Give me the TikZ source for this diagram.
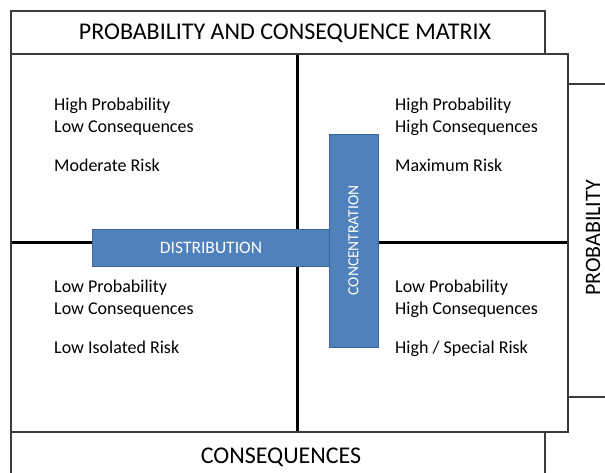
\documentclass[tikz,border=0pt]{standalone}
\usepackage{fontspec}
\setmainfont{Carlito}
\definecolor{barblue}{HTML}{4F81BD}
\definecolor{baredge}{HTML}{3C6696}
\definecolor{framegray}{HTML}{3A3A3A}
\tikzstyle{frame}=[draw=framegray, line width=1.6pt]
\tikzstyle{divider}=[draw=black, line width=3pt]
\tikzstyle{bar}=[fill=barblue, draw=baredge, line width=1pt]
\tikzstyle{bartext}=[white, inner sep=0pt, font=\fontsize{15.5}{18}\selectfont]
\tikzstyle{cell}=[anchor=base west, align=left, inner sep=0pt, font=\fontsize{18}{21.5}\selectfont]
\tikzstyle{heading}=[inner sep=0pt, font=\fontsize{24}{26}\selectfont]

\begin{document}
\begin{tikzpicture}[x=1pt, y=-1pt]
\useasboundingbox (0,0) rectangle (605,472);
% Quadrant dividers
    \draw[divider] (11,242) -- (568,242);
    \draw[divider] (297,54) -- (297,432);
% Frames
    \draw[frame] (11,11) rectangle (545,54);
    \draw[frame] (568,84) rectangle (625,397);
    \draw[frame] (11,432) rectangle (545,490);
    \draw[frame] (11,54) rectangle (568,432);
% Bars
    \draw[bar] (92,229) rectangle (330,266);
    \draw[bar] (329,134) rectangle (378,347);
    \node[bartext, font=\fontsize{17.5}{20}\selectfont] (dist) at (211,247.5) {DISTRIBUTION};
    \node[bartext, rotate=90] (conc) at (353.5,240.5) {CONCENTRATION};
% Headings
    \node[heading] (title) at (285,33) {PROBABILITY AND CONSEQUENCE MATRIX};
    \node[heading] (conseq) at (281,457) {CONSEQUENCES};
    \node[heading, rotate=90, font=\fontsize{22}{24}\selectfont] (prob) at (593,238) {PROBABILITY};
% Quadrant texts (anchored on the last line)
    \node[cell] (hilo) at (54,171) {High Probability\\Low Consequences\\[17.5pt]Moderate Risk};
    \node[cell] (hihi) at (395,171) {High Probability\\High Consequences\\[17.5pt]Maximum Risk};
    \node[cell] (lolo) at (54,353) {Low Probability\\Low Consequences\\[17.5pt]Low Isolated Risk};
    \node[cell] (lohi) at (395,353) {Low Probability\\High Consequences\\[17.5pt]High / Special Risk};
\end{tikzpicture}
\end{document}
